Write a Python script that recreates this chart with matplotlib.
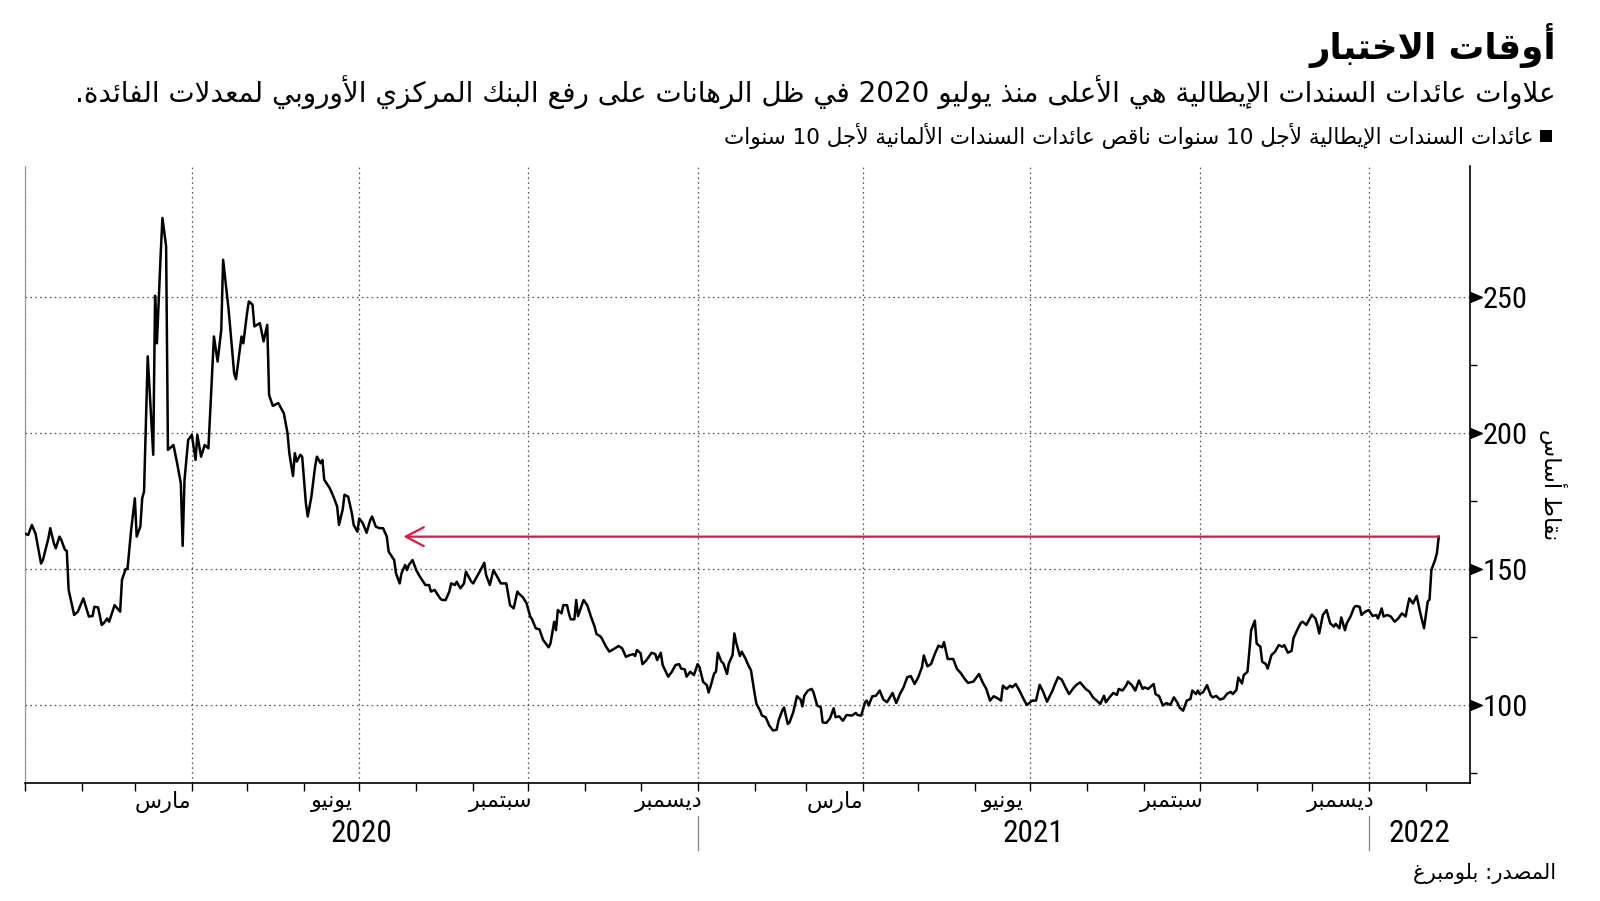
import re
import numpy as np
import pandas as pd
import matplotlib
matplotlib.use('Agg')
import matplotlib.pyplot as plt
import matplotlib.dates as mdates
import matplotlib.transforms as mtransforms
from matplotlib import font_manager
from matplotlib.font_manager import FontProperties
from matplotlib.patches import Rectangle

# ------------------------------------------------------------------ data
start_date = '2020-01-01'
x_end = '2022-02-25'
day_offsets = [
    0, 2, 4, 6, 9, 10, 13, 14, 16, 17, 19, 20, 22, 23, 24, 27, 29, 32, 35, 37, 38, 40, 42, 43, 45, 46, 49, 52, 53, 55, 56, 58,
    60, 61, 63, 64, 65, 67, 68, 70, 71, 72, 74, 75, 77, 78, 81, 83, 85, 86, 87, 89, 91, 93, 94, 96, 98, 100, 103, 105, 107,
    108, 111, 114, 115, 118, 119, 121, 122, 124, 125, 128, 130, 132,
    133, 135, 138, 140, 141, 143, 144, 146, 147, 148, 150, 151, 153, 154, 156, 158, 159, 161, 162, 163, 166, 168, 170, 171,
    173, 174, 176, 178, 179, 181, 182, 184, 186, 188, 189, 191, 193, 195, 197, 198, 201, 202, 203, 204, 205, 207, 208, 209,
    211, 213, 215, 218, 220, 221, 223, 226, 227, 229, 231, 232, 234, 235, 237, 239, 240, 243, 244, 246, 248, 250, 251, 253,
    255, 257, 259, 262,
    264, 266, 268, 269, 271, 273, 275, 276, 278, 280, 282, 285, 286, 288, 289, 290, 292, 293, 295, 296, 297, 299, 300, 301,
    303, 304, 306, 308, 310, 311, 313, 314, 316, 318, 321, 323, 325, 327, 329, 331, 332, 333, 335, 336, 338, 341, 343, 344,
    346, 347, 350, 352, 354, 356, 357, 359, 360, 362, 364, 366, 367, 369, 371, 372, 373, 375, 376, 377, 379, 380, 382, 383,
    385, 386, 387, 389, 390, 392, 394, 395, 397,
    398, 400, 401, 403, 405, 407, 409, 410, 412, 413, 415, 416, 418, 420, 422, 423, 424, 426, 428, 429, 431, 433, 434, 436,
    438, 440, 441, 443, 445, 447, 450, 452, 453, 455, 457, 458, 459, 461, 463, 465, 467, 469, 472, 474, 476, 478, 480, 482,
    484, 486, 488, 489, 491, 493, 495, 497, 499, 500, 502, 505, 507, 509, 511, 513, 516, 519, 521, 523, 525, 527, 529,
    531, 532, 534, 536, 537, 539, 541, 543, 545, 548, 550, 552, 554, 556, 559, 560, 562, 564, 566, 568, 570, 572, 574, 577,
    579, 581, 583, 585, 587, 588, 590, 592, 594, 595, 597, 599, 600, 602, 604, 606, 608, 609, 611, 614, 615, 617, 619, 621,
    623, 625, 627, 628, 630, 632, 634, 635, 637, 638, 639,
    641, 643, 645, 646, 648, 650, 652, 654, 656, 657, 659, 660, 662, 663, 665, 666, 667, 669, 670, 672, 673, 675, 676, 678,
    680, 682, 684, 685, 687, 689, 690, 692, 694, 695, 697, 700, 702, 703, 704, 706, 708, 710, 712, 713, 715, 716, 718, 719,
    721, 723, 724, 726, 727, 729, 731, 733, 735, 736, 738, 739, 741, 743, 745, 747, 749, 751, 752, 753, 755, 757, 759, 761,
    763, 764, 765, 767, 768, 769,
]
spread_bp = [
    163.1, 162.5, 166.2, 163.0, 152.0, 153.3, 161.3, 165.0, 159.4, 157.6, 161.9, 160.7, 157.0, 156.7, 142.3, 133.1, 134.3,
    139.2, 132.5, 132.7, 136.1, 135.9, 129.4, 130.0, 131.8, 130.6, 136.7, 134.3, 146.0, 150.0, 150.0, 164.4,
    176.0, 161.9, 165.6, 176.0, 178.5, 228.2, 215.9, 192.0, 250.5, 233.0, 265.0, 279.1, 268.7, 193.8, 195.6, 188.9, 181.5,
    158.5, 182.7, 197.5, 199.3, 190.1, 199.3, 191.3, 195.6, 194.4, 235.5, 226.3, 238.0,
    263.7, 245.3, 222.0, 219.8, 235.5, 233.0, 244.1, 248.4, 247.2, 239.2, 240.4, 233.7, 239.8,
    214.0, 210.0, 211.0, 208.5, 207.3, 200.0, 192.6, 184.2, 192.6, 189.5, 192.0, 191.3, 174.2, 169.3, 176.6, 187.6, 191.3,
    188.9, 190.1, 182.8, 179.7, 176.6, 173.0, 166.2,
    171.8, 177.3, 176.6, 170.5, 166.2, 163.7, 168.6, 166.8, 163.3, 168.0, 169.3, 165.6, 165.0, 165.0, 161.9, 156.4, 153.3,
    148.4, 146.6, 144.7, 148.4, 151.5, 149.6, 151.5,
    153.3, 149.6, 147.2, 144.1, 144.1, 141.7, 142.3, 139.2, 138.6, 138.6, 141.7, 144.7, 144.1, 145.3, 142.9, 144.7, 149.0,
    145.3, 144.7, 147.2, 149.6, 152.3, 147.8, 144.1,
    149.6, 147.2, 144.7, 144.7,
    136.7, 135.5, 141.7, 140.8, 139.6, 137.4, 132.5, 131.5, 128.2, 127.8, 123.9, 121.2, 122.6, 130.6, 127.5, 134.9, 133.7,
    136.7, 136.7, 133.7, 131.5, 131.5, 138.6, 132.7,
    136.7, 138.6, 136.7, 132.5, 128.8, 126.1, 125.3, 124.4, 121.7, 119.6, 120.8, 121.7, 120.8, 117.7, 118.3, 118.7, 118.0,
    120.2, 119.0, 115.0, 116.3, 119.2, 118.7, 116.5,
    119.2, 114.7, 110.4, 112.2, 114.7, 115.0, 113.4, 113.1, 110.4, 112.2, 111.0, 115.0, 114.0, 108.5, 107.3, 104.6, 106.7,
    111.6, 112.2, 119.2, 115.9, 115.3, 111.4, 115.3,
    118.3, 126.3, 122.9, 118.0, 119.6, 117.1, 114.0, 112.8, 104.2,
    100.4, 97.9, 96.1, 95.5, 92.4, 90.6, 90.9, 94.2, 97.9, 99.1, 93.0, 93.6, 97.3, 103.2, 102.0, 99.5, 103.4, 105.3, 105.9,
    104.7, 99.8, 99.1, 93.6, 93.4,
    95.1, 98.8, 95.5, 95.8, 94.2, 96.3, 96.1, 97.1, 96.3, 96.1, 101.0, 101.6, 99.8, 103.2, 103.4, 105.3, 102.0, 101.0,
    104.4, 100.7, 104.0, 106.5, 110.2, 110.6,
    107.7, 110.2, 113.9, 118.2, 114.2, 115.1, 118.8, 121.8, 121.2, 123.1, 116.9, 116.9, 113.3, 111.8, 109.8, 108.1, 108.6,
    111.4, 108.3, 105.9, 101.6, 103.2, 102.5,
    101.6, 107.1, 105.9, 107.1, 106.5, 107.7, 105.3, 102.5, 100.0, 101.6, 101.6, 107.4, 104.7, 101.2, 105.3, 107.1, 110.2,
    109.3, 106.5, 104.0, 105.9, 107.4, 108.3, 105.9,
    104.9, 102.8, 101.6, 100.4, 103.4, 101.0, 102.8, 104.4, 103.7, 105.9, 105.3, 107.1, 108.6, 107.4, 105.3, 109.0, 105.9,
    106.5, 105.9, 107.7, 104.0, 103.2, 99.8, 100.7,
    100.0, 102.8, 100.7, 99.1, 97.9, 101.6, 102.2, 105.3, 104.0, 105.3, 104.0,
    104.8, 107.3, 103.6, 102.8, 103.3, 102.0, 102.4, 104.2, 104.8, 104.0, 105.5, 110.1, 107.9, 111.0, 112.2, 119.6, 127.5,
    131.0, 122.6, 121.4, 115.9, 115.0, 113.4, 118.3,
    119.6, 122.0, 121.4, 122.0, 119.2, 119.9, 124.5, 127.5, 130.2, 130.6, 129.4, 133.2, 131.8, 129.4, 126.3, 133.1, 134.9,
    130.0, 128.8, 129.8, 128.2, 132.2, 127.5, 130.0,
    132.5, 135.9, 136.4, 136.1, 133.1, 134.3, 134.9, 132.7, 133.1, 131.8, 135.5, 132.5, 133.1, 132.5, 130.6, 131.8, 133.7,
    132.5, 136.1, 139.2, 137.3, 140.1, 133.7, 128.2,
    138.0, 138.8, 149.6, 153.3, 155.8, 161.9,
]
arrow_to_date = '2020-07-25'

month_names = {3: 'مارس', 6: 'يونيو', 9: 'سبتمبر', 12: 'ديسمبر'}
year_labels = ['2020', '2021', '2022']
y_ticks = [100, 150, 200, 250]
y_minor_ticks = [75, 125, 175, 225]
y_limits = (71.3, 298.2)

title_text = 'أوقات الاختبار'
subtitle_text = ('علاوات عائدات السندات الإيطالية هي الأعلى منذ يوليو 2020 في ظل الرهانات '
                 'على رفع البنك المركزي الأوروبي لمعدلات الفائدة.')
legend_text = 'عائدات السندات الإيطالية لأجل 10 سنوات ناقص عائدات السندات الألمانية لأجل 10 سنوات'
ylabel_text = 'نقاط أساس'
source_text = 'المصدر: بلومبرغ'

# ------------------------------------------------------------------ Arabic shaping (no external libs)
_DUAL = {0x0626: 0xFE89, 0x0628: 0xFE8F, 0x062A: 0xFE95, 0x062B: 0xFE99, 0x062C: 0xFE9D, 0x062D: 0xFEA1,
         0x062E: 0xFEA5, 0x0633: 0xFEB1, 0x0634: 0xFEB5, 0x0635: 0xFEB9, 0x0636: 0xFEBD, 0x0637: 0xFEC1,
         0x0638: 0xFEC5, 0x0639: 0xFEC9, 0x063A: 0xFECD, 0x0641: 0xFED1, 0x0642: 0xFED5, 0x0643: 0xFED9,
         0x0644: 0xFEDD, 0x0645: 0xFEE1, 0x0646: 0xFEE5, 0x0647: 0xFEE9, 0x064A: 0xFEF1}
_RIGHT = {0x0622: 0xFE81, 0x0623: 0xFE83, 0x0624: 0xFE85, 0x0625: 0xFE87, 0x0627: 0xFE8D, 0x0629: 0xFE93,
          0x062F: 0xFEA9, 0x0630: 0xFEAB, 0x0631: 0xFEAD, 0x0632: 0xFEAF, 0x0648: 0xFEED, 0x0649: 0xFEEF}
_NONJOIN = {0x0621: 0xFE80}
_LAM_ALEF = {0x0622: 0xFEF5, 0x0623: 0xFEF7, 0x0625: 0xFEF9, 0x0627: 0xFEFB}


def _shape(text):
    toks = []
    i = 0
    while i < len(text):
        c = ord(text[i])
        if c == 0x0644 and i + 1 < len(text) and ord(text[i + 1]) in _LAM_ALEF:
            toks.append(('LA', ord(text[i + 1])))
            i += 2
        else:
            toks.append(('C', c))
            i += 1

    def kind(t):
        if t[0] == 'LA':
            return 'R'
        c = t[1]
        if c in _DUAL:
            return 'D'
        if c in _RIGHT:
            return 'R'
        if c in _NONJOIN:
            return 'U'
        return None

    out = []
    for j, t in enumerate(toks):
        k = kind(t)
        if k is None:
            out.append(chr(t[1]))
            continue
        if k == 'U':
            out.append(chr(_NONJOIN[t[1]]))
            continue
        prev_j = j > 0 and kind(toks[j - 1]) == 'D'
        next_j = k == 'D' and j + 1 < len(toks) and kind(toks[j + 1]) in ('D', 'R')
        if t[0] == 'LA':
            b = _LAM_ALEF[t[1]]
            out.append(chr(b + 1 if prev_j else b))
        elif k == 'R':
            b = _RIGHT[t[1]]
            out.append(chr(b + 1 if prev_j else b))
        else:
            b = _DUAL[t[1]]
            f = 3 if (prev_j and next_j) else 1 if prev_j else 2 if next_j else 0
            out.append(chr(b + f))
    return ''.join(out)


def ar(text):
    s = _shape(text)
    runs = re.findall(r'[0-9A-Za-z]+|[^0-9A-Za-z]+', s)
    out = []
    for r in reversed(runs):
        if r[0].isascii() and r[0].isalnum():
            out.append(r)
        else:
            out.append(r[::-1])
    return ''.join(out)


def pick_num_font():
    cands = [dict(family='Liberation Sans Narrow'), dict(family='Roboto Condensed'),
             dict(family='DejaVu Sans', stretch='condensed'), dict(family='Open Sans', stretch='condensed'),
             dict(family='Noto Sans', stretch='condensed'), dict(family='Roboto')]
    for c in cands:
        try:
            p = font_manager.findfont(FontProperties(**c), fallback_to_default=False)
        except Exception:
            continue
        if 'stretch' in c and 'ondensed' not in p:
            continue
        return p
    return font_manager.findfont(FontProperties(family='DejaVu Sans'))


AR_FONT = 'DejaVu Sans'
NUM_PATH = pick_num_font()


def num_fp(size):
    return FontProperties(fname=NUM_PATH, size=size)


# ------------------------------------------------------------------ figure
W, H = 1600, 901
fig = plt.figure(figsize=(W / 100, H / 100), dpi=100)
fig.patch.set_facecolor('white')
renderer = fig.canvas.get_renderer()


def width_of(s, fp):
    t = fig.text(0, 0, s, fontproperties=fp)
    w = t.get_window_extent(renderer=renderer).width
    t.remove()
    return w


tick_fs = 20 * 45 / width_of('250', num_fp(20))
year_fs = 20 * 62 / width_of('2020', num_fp(20))

ax_left, ax_right, ax_top, ax_bottom = 24.5, 1470, 166, 783
ax = fig.add_axes([ax_left / W, (H - ax_bottom) / H, (ax_right - ax_left) / W, (ax_bottom - ax_top) / H])

dates = pd.Timestamp(start_date) + pd.to_timedelta(day_offsets, unit='D')
ax.plot(dates, spread_bp, color='black', lw=1.8, solid_joinstyle='round', zorder=3)

x0, x1 = pd.Timestamp(start_date), pd.Timestamp(x_end)
ax.set_xlim(x0, x1)
ax.set_ylim(*y_limits)

# spines
ax.spines['top'].set_visible(False)
ax.spines['left'].set_color('#9a9a9a')
ax.spines['left'].set_linewidth(0.9)
for s in ('right', 'bottom'):
    ax.spines[s].set_color('black')
    ax.spines[s].set_linewidth(1.2)

# x axis ticks and grid
ax.xaxis.set_major_locator(mdates.MonthLocator(bymonth=[1, 4, 7, 10]))
ax.xaxis.set_minor_locator(mdates.MonthLocator())
ax.tick_params(axis='x', which='both', direction='out', length=6, width=1, color='black',
               labelbottom=False)
grid_kw = dict(color='#555555', linestyle=(0, (1.3, 2.6)), linewidth=0.9)
ax.grid(axis='x', which='major', **grid_kw)
ax.grid(axis='y', which='major', **grid_kw)

# y axis on the right
ax.yaxis.tick_right()
ax.set_yticks(y_ticks, labels=[str(v) for v in y_ticks], fontproperties=num_fp(tick_fs))
ax.set_yticks(y_minor_ticks, minor=True)
ax.tick_params(axis='y', which='major', length=0, pad=9, labelcolor='black')
ax.tick_params(axis='y', which='minor', direction='out', length=5, width=1, color='black')
ax.tick_params(axis='y', which='both', left=False)

trans_yr = mtransforms.blended_transform_factory(ax.transAxes, ax.transData)
tri = [(0, -0.42), (1, 0), (0, 0.42), (0, -0.42)]
ax.plot([1] * len(y_ticks), y_ticks, linestyle='none', marker=tri, markersize=17, color='black',
        transform=trans_yr, clip_on=False, zorder=5)

# month & year labels
trans_xb = mtransforms.blended_transform_factory(ax.transData, ax.transAxes)
axh = ax_bottom - ax_top


def fit(txt, target_w):
    bb = txt.get_window_extent(renderer=renderer)
    txt.set_fontsize(txt.get_fontsize() * target_w / bb.width)


months = pd.date_range(x0, x1, freq='MS')
month_txts = []
for m in months:
    if m.month in month_names:
        nxt = m + pd.offsets.MonthBegin(1)
        mid = m + (nxt - m) / 2
        t = ax.text(mid, -(802 - ax_bottom) / axh, ar(month_names[m.month]), transform=trans_xb,
                    ha='center', va='center', fontsize=14, family=AR_FONT, color='black')
        month_txts.append((m.month, t))
ref = [t for mm, t in month_txts if mm == 9][0]
bb = ref.get_window_extent(renderer=renderer)
mfs = 14 * 65 / bb.width
for mm, t in month_txts:
    t.set_fontsize(mfs)

for yl in year_labels:
    ys = pd.Timestamp(f'{yl}-01-01')
    ye = pd.Timestamp(f'{int(yl) + 1}-01-01')
    a, b = max(ys, x0), min(ye, x1)
    mid = a + (b - a) / 2
    ax.text(mid, -(834 - ax_bottom) / axh, yl, transform=trans_xb, ha='center', va='center',
            fontproperties=num_fp(year_fs), color='black')
    if ys > x0:
        ax.plot([ys, ys], [-(816 - ax_bottom) / axh, -(850 - ax_bottom) / axh], color='#8a8a8a',
                lw=1.0, transform=trans_xb, clip_on=False)

# red arrow
ax.annotate('', xy=(pd.Timestamp(arrow_to_date), spread_bp[-1]), xytext=(dates[-1], spread_bp[-1]),
            arrowprops=dict(arrowstyle='->,head_length=1.3,head_width=0.68', color='#e3173e', lw=1.6,
                            shrinkA=0, shrinkB=0, mutation_scale=10), zorder=4)

# ------------------------------------------------------------------ texts
title = fig.text(1556 / W, 1 - 45 / H, ar(title_text), ha='right', va='center', fontsize=30,
                 fontweight='bold', family=AR_FONT, color='black')
fit(title, 247)
sub = fig.text(1556 / W, 1 - 92 / H, ar(subtitle_text), ha='right', va='center', fontsize=18,
               family=AR_FONT, color='black')
fit(sub, 1480)
leg = fig.text(1533 / W, 1 - 136 / H, ar(legend_text), ha='right', va='center', fontsize=14,
               family=AR_FONT, color='black')
fit(leg, 819)
fig.add_artist(Rectangle((1540 / W, 1 - 142 / H), 12 / W, 12 / H, transform=fig.transFigure,
                         facecolor='black', edgecolor='none'))
src = fig.text(1556 / W, 1 - 874 / H, ar(source_text), ha='right', va='center', fontsize=14,
               family=AR_FONT, color='black')
fit(src, 145)
ylab = fig.text(1553 / W, 1 - 485 / H, ar(ylabel_text), ha='center', va='center', rotation=270,
                fontsize=14, family=AR_FONT, color='black')
bb = ylab.get_window_extent(renderer=renderer)
ylab.set_fontsize(14 * 112 / bb.height)

fig.savefig('out.png', dpi=100, facecolor='white')
